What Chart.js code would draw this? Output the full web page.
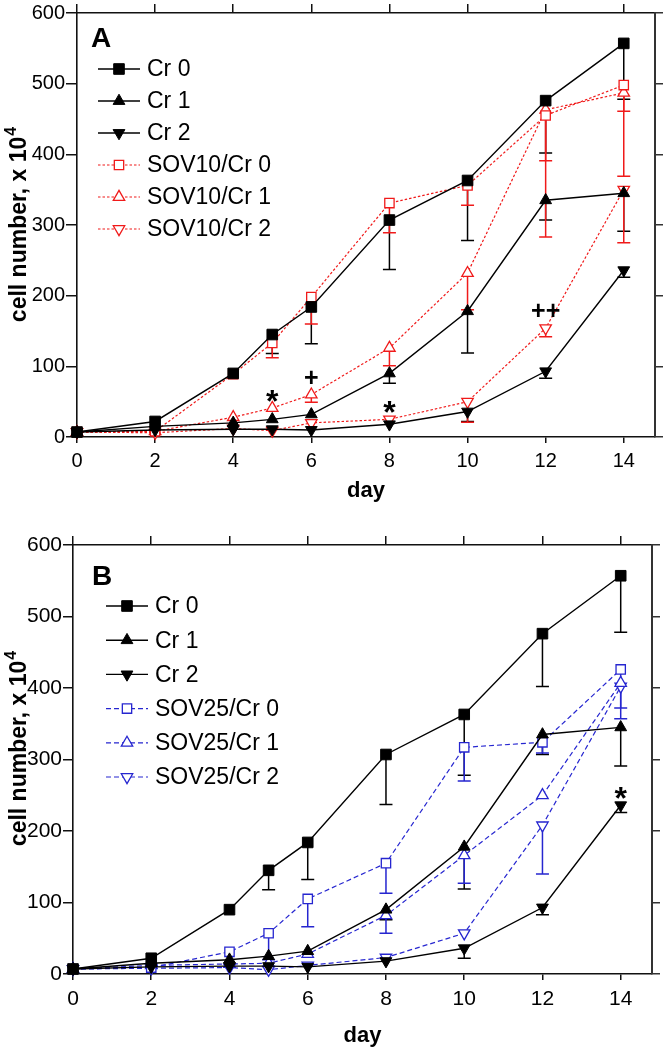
<!DOCTYPE html>
<html>
<head>
<meta charset="utf-8">
<script src="https://cdn.jsdelivr.net/npm/chart.js@4.4.0/dist/chart.umd.min.js"></script>
<style>
  html, body { margin: 0; padding: 0; background: #fff; }
  canvas { display: block; }
</style>
</head>
<body>
<canvas id="chartA" width="665" height="520"></canvas>
<canvas id="chartB" width="665" height="528"></canvas>
<script>
var FONT = '"Liberation Sans", Arial, sans-serif';

var days = [0, 2, 4, 5, 6, 8, 10, 12, 14];
var dayTicks = [0, 2, 4, 6, 8, 10, 12, 14];
var countTicks = [0, 100, 200, 300, 400, 500, 600];

// controls, shared by both panels (downward SD bars)
var cr0 = [7, 22, 90, 145, 184, 307, 363, 476, 557];
var cr0Err = [0, 0, 0, 27, 52, 70, 85, 74, 79];
var cr1 = [7, 15, 20, 25, 32, 90, 178, 335, 345];
var cr1Err = [0, 0, 0, 0, 0, 14, 59, 28, 54];
var cr2 = [7, 10, 11, 11, 10, 18, 36, 93, 236];
var cr2Err = [0, 0, 0, 0, 0, 0, 14, 10, 10];

// panel A, SOV10
var sov10Cr0 = [7, 8, 89, 133, 198, 331, 356, 455, 498];
var sov10Cr0Err = [0, 0, 0, 21, 38, 42, 28, 64, 37];
var sov10Cr1 = [7, 8, 28, 41, 60, 126, 232, 463, 487];
var sov10Cr1Err = [0, 0, 0, 0, 11, 25, 52, 180, 118];
var sov10Cr2 = [7, 6, 12, 9, 20, 25, 50, 154, 350];
var sov10Cr2Err = [0, 0, 0, 0, 0, 0, 29, 12, 75];

// panel B, SOV25
var sov25Cr0 = [7, 9, 31, 57, 105, 155, 317, 324, 426];
var sov25Cr0Err = [0, 0, 0, 37, 39, 42, 47, 15, 54];
var sov25Cr1 = [7, 12, 14, 15, 28, 82, 166, 250, 407];
var sov25Cr1Err = [0, 0, 0, 0, 0, 25, 39, 0, 50];
var sov25Cr2 = [7, 8, 9, 6, 12, 23, 57, 208, 402];
var sov25Cr2Err = [0, 0, 0, 0, 0, 0, 0, 68, 0];

var namesA = ['Cr 0', 'Cr 1', 'Cr 2', 'SOV10/Cr 0', 'SOV10/Cr 1', 'SOV10/Cr 2'];
var namesB = ['Cr 0', 'Cr 1', 'Cr 2', 'SOV25/Cr 0', 'SOV25/Cr 1', 'SOV25/Cr 2'];

// significance marks
var marksA = [
  { x: 5, y: 60, t: '*' },
  { x: 6, y: 84, t: '+' },
  { x: 8, y: 45, t: '*' },
  { x: 12, y: 180, t: '++' }
];
var marksB = [
  { x: 14, y: 255, t: '*' }
];

var RED = '#f01a1a';
var BLUE = '#2626d0';

function points(values) {
  return days.map(function(d, i) { return { x: d, y: values[i] }; });
}

function series(label, values, err, look) {
  return {
    label: label,
    data: points(values),
    err: err,
    borderColor: look.color,
    borderWidth: look.width,
    borderDash: look.dash,
    pointStyle: look.shape,
    pointRotation: look.rot,
    pointRadius: look.r,
    pointHoverRadius: look.r,
    pointBackgroundColor: look.fill,
    pointBorderColor: look.color,
    pointBorderWidth: look.pw,
    tension: 0,
    fill: false,
    clip: false
  };
}

function solid(shape, rot, r) {
  return { color: '#000', width: 1.4, dash: [], shape: shape, rot: rot, r: r, fill: '#000', pw: 1 };
}
function open(color, dash, shape, rot, r) {
  return { color: color, width: 1.2, dash: dash, shape: shape, rot: rot, r: r, fill: '#fff', pw: 1.3 };
}

function controls(names) {
  return [
    series(names[0], cr0, cr0Err, solid('rect', 0, 7.5)),
    series(names[1], cr1, cr1Err, solid('triangle', 0, 6.8)),
    series(names[2], cr2, cr2Err, solid('triangle', 180, 6.8))
  ];
}

var errorBars = {
  id: 'errorBars',
  beforeDatasetsDraw: function(chart) {
    var ctx = chart.ctx, y = chart.scales.y;
    chart.data.datasets.forEach(function(ds, di) {
      var meta = chart.getDatasetMeta(di);
      ds.err.forEach(function(e, i) {
        if (!e) return;
        var px = meta.data[i].x;
        var top = y.getPixelForValue(ds.data[i].y);
        var bot = y.getPixelForValue(ds.data[i].y - e);
        ctx.save();
        ctx.strokeStyle = ds.borderColor;
        ctx.lineWidth = 1.5;
        ctx.setLineDash([]);
        ctx.beginPath();
        ctx.moveTo(px, top);
        ctx.lineTo(px, bot);
        ctx.moveTo(px - 6.5, bot);
        ctx.lineTo(px + 6.5, bot);
        ctx.stroke();
        ctx.restore();
      });
    });
  }
};

function marker(ctx, shape, rot, r, x, y) {
  ctx.beginPath();
  if (shape === 'rect') {
    var s = r * Math.SQRT1_2;
    ctx.rect(x - s, y - s, 2 * s, 2 * s);
  } else {
    var a = (rot || 0) * Math.PI / 180;
    for (var k = 0; k < 3; k++) {
      var px = x + Math.sin(a) * r, py = y - Math.cos(a) * r;
      if (k) ctx.lineTo(px, py); else ctx.moveTo(px, py);
      a += 2 * Math.PI / 3;
    }
    ctx.closePath();
  }
}

// panel letter, legend, axis titles and significance marks
var panelText = {
  id: 'panelText',
  afterDraw: function(chart, args, o) {
    var ctx = chart.ctx, area = chart.chartArea;
    var sx = chart.scales.x, sy = chart.scales.y;
    ctx.save();
    ctx.fillStyle = '#000';

    ctx.font = 'bold 28px ' + FONT;
    ctx.textAlign = 'left';
    ctx.textBaseline = 'alphabetic';
    ctx.fillText(o.letter, o.letterX, o.letterY);

    chart.data.datasets.forEach(function(ds, i) {
      var ly = o.legY + i * o.legGap;
      ctx.save();
      ctx.strokeStyle = ds.borderColor;
      ctx.lineWidth = ds.borderWidth;
      ctx.setLineDash(ds.borderDash);
      ctx.beginPath();
      ctx.moveTo(o.legX, ly);
      ctx.lineTo(o.legX + 42, ly);
      ctx.stroke();
      ctx.setLineDash([]);
      marker(ctx, ds.pointStyle, ds.pointRotation, ds.pointRadius, o.legX + 21, ly);
      ctx.fillStyle = ds.pointBackgroundColor;
      ctx.fill();
      ctx.lineWidth = ds.pointBorderWidth;
      ctx.stroke();
      ctx.restore();
      ctx.font = '23px ' + FONT;
      ctx.textBaseline = 'middle';
      ctx.fillText(ds.label, o.legX + 49, ly + 1);
    });

    ctx.font = 'bold 22px ' + FONT;
    ctx.textAlign = 'center';
    ctx.textBaseline = 'alphabetic';
    ctx.fillText('day', (area.left + area.right) / 2, o.dayY);

    ctx.save();
    ctx.translate(o.titleX, o.titleY);
    ctx.rotate(-Math.PI / 2);
    ctx.textAlign = 'left';
    var main = 'cell number, x 10';
    ctx.font = 'bold 23px ' + FONT;
    var w = ctx.measureText(main).width;
    ctx.font = 'bold 16px ' + FONT;
    var w2 = ctx.measureText('4').width;
    var start = -(w + w2) / 2;
    ctx.font = 'bold 23px ' + FONT;
    ctx.fillText(main, start, 0);
    ctx.font = 'bold 16px ' + FONT;
    ctx.fillText('4', start + w + 1, -10);
    ctx.restore();

    o.marks.forEach(function(m) {
      var size = m.t === '*' ? 32 : 25;
      var lift = m.t === '*' ? 0.55 : 0.35;
      ctx.font = 'bold ' + size + 'px ' + FONT;
      ctx.textAlign = 'center';
      ctx.fillText(m.t, sx.getPixelForValue(m.x), sy.getPixelForValue(m.y) + lift * size);
    });
    ctx.restore();
  }
};

function axisSet(g) {
  var edge = { color: '#111', width: 1.6 };
  var tickFont = { size: g.tickSize, family: FONT };
  function fixTicks(list) {
    return function(s) { s.ticks = list.map(function(v) { return { value: v }; }); };
  }
  return {
    x: {
      type: 'linear', position: 'bottom', min: 0, max: 14.8,
      afterBuildTicks: fixTicks(dayTicks),
      afterFit: function(s) { s.height = g.bottom; },
      grid: { drawOnChartArea: false, tickLength: 6, color: '#111', lineWidth: 1.5 },
      border: edge,
      ticks: { color: '#000', font: tickFont, padding: g.xPad, maxRotation: 0, autoSkip: false }
    },
    x2: {
      type: 'linear', position: 'top', min: 0, max: 14.8,
      afterBuildTicks: fixTicks(dayTicks),
      afterFit: function(s) { s.height = 9; },
      grid: { drawOnChartArea: false, tickLength: 9, color: '#111', lineWidth: 1.5 },
      border: edge,
      ticks: { display: false }
    },
    y: {
      type: 'linear', position: 'left', min: 0, max: 600,
      afterBuildTicks: fixTicks(countTicks),
      afterFit: function(s) { s.width = g.left; },
      grid: { drawOnChartArea: false, tickLength: g.yTick, color: '#111', lineWidth: 1.5 },
      border: edge,
      ticks: { color: '#000', font: tickFont, padding: 1 }
    },
    y2: {
      type: 'linear', position: 'right', min: 0, max: 600,
      afterBuildTicks: fixTicks(countTicks),
      afterFit: function(s) { s.width = g.right; },
      grid: { drawOnChartArea: false, tickLength: 8, color: '#333', lineWidth: 1.5 },
      border: { color: '#333', width: 2 },
      ticks: { display: false }
    }
  };
}

function makePanel(id, sets, geom, text) {
  new Chart(document.getElementById(id), {
    type: 'line',
    data: { datasets: sets },
    options: {
      responsive: false,
      animation: false,
      events: [],
      layout: { padding: { top: geom.padTop, left: 0, right: 0, bottom: 0 } },
      scales: axisSet(geom),
      plugins: {
        legend: { display: false },
        tooltip: { enabled: false },
        panelText: text
      }
    },
    plugins: [errorBars, panelText]
  });
}

var setsA = controls(namesA).concat([
  series(namesA[3], sov10Cr0, sov10Cr0Err, open(RED, [2.5, 2], 'rect', 0, 6.6)),
  series(namesA[4], sov10Cr1, sov10Cr1Err, open(RED, [2.5, 2], 'triangle', 0, 6.6)),
  series(namesA[5], sov10Cr2, sov10Cr2Err, open(RED, [2.5, 2], 'triangle', 180, 6.6))
]);

var setsB = controls(namesB).concat([
  series(namesB[3], sov25Cr0, sov25Cr0Err, open(BLUE, [5, 3], 'rect', 0, 6.6)),
  series(namesB[4], sov25Cr1, sov25Cr1Err, open(BLUE, [5, 3], 'triangle', 0, 6.6)),
  series(namesB[5], sov25Cr2, sov25Cr2Err, open(BLUE, [5, 3], 'triangle', 180, 6.6))
]);

makePanel('chartA', setsA,
  { padTop: 0, bottom: 83, left: 77, right: 10, tickSize: 20, xPad: 6, yTick: 11 },
  { letter: 'A', letterX: 91, letterY: 47, legX: 98, legY: 69, legGap: 32,
    dayY: 497, titleX: 26, titleY: 225, marks: marksA });

makePanel('chartB', setsB,
  { padTop: 16, bottom: 74, left: 73, right: 13, tickSize: 21, xPad: 7, yTick: 10 },
  { letter: 'B', letterX: 92, letterY: 65, legX: 106, legY: 86, legGap: 34.2,
    dayY: 522, titleX: 26, titleY: 229, marks: marksB });
</script>
</body>
</html>
